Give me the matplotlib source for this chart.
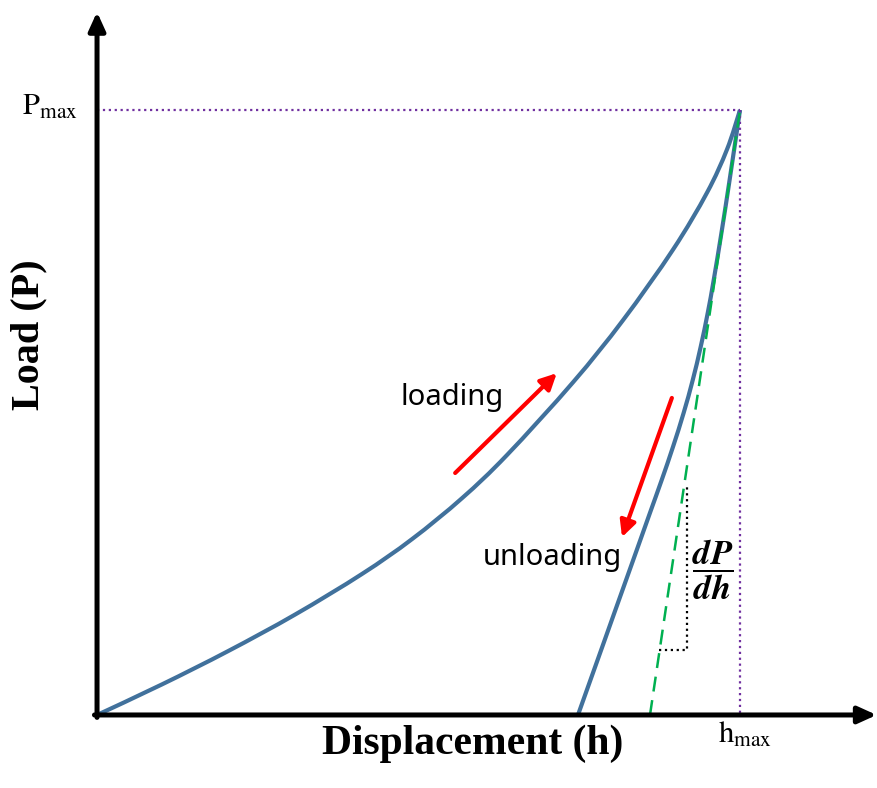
import matplotlib
matplotlib.use("Agg")
import matplotlib.pyplot as plt
from matplotlib.path import Path
from matplotlib.patches import PathPatch

plt.rcParams["mathtext.fontset"] = "stix"

# normalised units: h / h_max and P / P_max
load_h = [0, 0.1011, 0.2037, 0.3079, 0.4121, 0.4899, 0.5677, 0.6376, 0.7403,
          0.8180, 0.8958, 0.9487, 0.9798, 1.0]
load_P = [0, 0.0506, 0.1055, 0.1659, 0.2331, 0.2907, 0.3584, 0.4297, 0.5499,
          0.6525, 0.7692, 0.8634, 0.9349, 1.0]

unload_h = [1.0, 0.9831, 0.9711, 0.9591, 0.9498, 0.9388, 0.9265, 0.9123, 0.8957,
            0.8782, 0.8599, 0.8411, 0.8228, 0.8045, 0.7857, 0.7674, 0.7480]
unload_P = [1.0, 0.8793, 0.7967, 0.7190, 0.6645, 0.6083, 0.5537, 0.4992, 0.4430,
            0.3884, 0.3339, 0.2777, 0.2231, 0.1686, 0.1124, 0.0579, 0]

tangent_h = [0.86, 1.0]
tangent_P = [0, 1.0]

h_max = 1.0
P_max = 1.0

bracket_h = [0.874, 0.9176, 0.9176]
bracket_P = [0.1074, 0.1074, 0.3785]

blue = "#41719C"


def smooth_path(xs, ys):
    # Catmull-Rom through the read points, drawn as cubic Bezier segments
    pts = list(zip(xs, ys))
    verts = [pts[0]]
    codes = [Path.MOVETO]
    n = len(pts)
    for i in range(n - 1):
        p0 = pts[max(i - 1, 0)]
        p1 = pts[i]
        p2 = pts[i + 1]
        p3 = pts[min(i + 2, n - 1)]
        c1 = (p1[0] + (p2[0] - p0[0]) / 6, p1[1] + (p2[1] - p0[1]) / 6)
        c2 = (p2[0] - (p3[0] - p1[0]) / 6, p2[1] - (p3[1] - p1[1]) / 6)
        verts += [c1, c2, p2]
        codes += [Path.CURVE4] * 3
    return Path(verts, codes)


fig = plt.figure(figsize=(8.78, 7.88), dpi=100)
ax = fig.add_axes([0, 0, 1, 1])
ax.set_xlim(-0.1509, 1.2146)
ax.set_ylim(-0.1207, 1.1818)
ax.axis("off")

# reference lines for h_max / P_max
ax.plot([0, h_max], [P_max, P_max], color="#7030A0", lw=1.6, ls=":")
ax.plot([h_max, h_max], [P_max, 0], color="#7030A0", lw=1.6, ls=":")

# slope bracket
ax.plot(bracket_h, bracket_P, color="black", lw=1.6, ls=":")

# loading / unloading curves
ax.add_patch(PathPatch(smooth_path(load_h, load_P), facecolor="none",
                       edgecolor=blue, lw=3))
ax.add_patch(PathPatch(smooth_path(unload_h, unload_P), facecolor="none",
                       edgecolor=blue, lw=3))

# tangent (stiffness) line
ax.plot(tangent_h, tangent_P, color="#00B050", lw=1.8, dashes=(6, 3.5))

# axes with arrows
ax_style = dict(arrowstyle="-|>,head_length=1.1,head_width=0.5", lw=3.6,
                color="black", shrinkA=0, shrinkB=0, mutation_scale=10)
ax.annotate("", xy=(0, 1.162), xytext=(0, -0.004), arrowprops=ax_style)
ax.annotate("", xy=(1.2125, 0), xytext=(-0.004, 0), arrowprops=ax_style)

# direction arrows
red_style = dict(arrowstyle="-|>,head_length=0.8,head_width=0.4", lw=3,
                 color="#FF0000", shrinkA=0, shrinkB=0, mutation_scale=12)
ax.annotate("", xy=(0.715, 0.565), xytext=(0.557, 0.400), arrowprops=red_style)
ax.annotate("", xy=(0.8165, 0.294), xytext=(0.894, 0.524), arrowprops=red_style)

ax.text(0.552, 0.524, "loading", fontsize=21, family="Noto Sans",
        ha="center", va="center")
ax.text(0.7076, 0.261, "unloading", fontsize=21, family="Noto Sans",
        ha="center", va="center")

ax.text(0.958, 0.240, r"$\dfrac{\mathbfit{dP}}{\mathbfit{dh}}$", fontsize=25,
        ha="center", va="center")

ax.text(-0.03, P_max + 0.005, r"$\mathrm{P}_{\mathrm{max}}$", fontsize=22,
        ha="right", va="center")
ax.text(h_max + 0.008, -0.008, r"$\mathrm{h}_{\mathrm{max}}$", fontsize=22,
        ha="center", va="top")

ax.text(0.585, -0.0645, "Displacement (h)", fontsize=30, fontweight="bold",
        family="Liberation Serif", ha="center", va="baseline")
ax.text(-0.106, 0.628, "Load (P)", fontsize=29, fontweight="bold",
        family="Liberation Serif", rotation=90, ha="center", va="center")

fig.savefig("out.png", dpi=100)
